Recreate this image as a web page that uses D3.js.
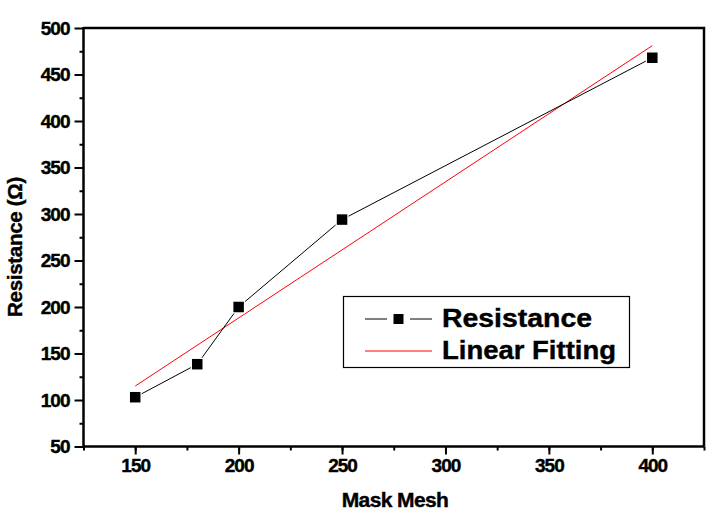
<!DOCTYPE html>
<html><head><meta charset="utf-8">
<script src="https://cdn.jsdelivr.net/npm/d3@7"></script>
<style>
html,body{margin:0;padding:0;background:#fff;}
svg{display:block;font-family:Arial,"Liberation Sans",sans-serif;}
</style></head>
<body>
<svg id="chart" width="719" height="526"></svg>
<script>
// Data
const meshes = [150, 180, 200, 250, 400];
const resistance = [103, 138.5, 200, 294, 468];
const fitX = [150, 400];
const fitY = [115, 481];
const xTicks = [150, 200, 250, 300, 350, 400];
const yTicks = [50, 100, 150, 200, 250, 300, 350, 400, 450, 500];
const seriesNames = ["Resistance", "Linear Fitting"];

const W = 719, H = 526;
const L = 83.5, R = 704, T = 28, B = 446.5;
const svg = d3.select("#chart");

const x = d3.scaleLinear().domain([125, 425]).range([L, R]);
const y = d3.scaleLinear().domain([50, 500]).range([B, T]);

// frame top/right
svg.append("path")
  .attr("d", `M${L},${T}H${R}V${B}`)
  .attr("fill", "none").attr("stroke", "#000").attr("stroke-width", 2.5);

function styleLabels(sel) {
  sel.selectAll("text").attr("font-size", 19).attr("font-weight", "bold")
    .attr("letter-spacing", -1).attr("fill", "#000").attr("stroke", "#000").attr("stroke-width", 0.4)
    .attr("font-family", "Arial, Liberation Sans");
}

// x axis
const xAxis = svg.append("g").attr("transform", `translate(0,${B})`);
xAxis.call(d3.axisBottom(x).tickValues(d3.range(125, 426, 25)).tickSize(4).tickFormat(""))
xAxis.select(".domain").remove();
xAxis.selectAll(".tick line").attr("stroke-width", 2);
const xMaj = svg.append("g").attr("transform", `translate(0,${B})`);
xMaj.call(d3.axisBottom(x).tickValues(xTicks).tickSize(8).tickPadding(4).tickFormat(d3.format("d")));
xMaj.select(".domain").remove();
xMaj.selectAll(".tick line").attr("stroke-width", 2);
styleLabels(xMaj);
svg.append("line").attr("x1", L).attr("x2", R).attr("y1", B).attr("y2", B)
  .attr("stroke", "#000").attr("stroke-width", 2.5);

// y axis
const yMin = svg.append("g").attr("transform", `translate(${L},0)`);
yMin.call(d3.axisLeft(y).tickValues(d3.range(75, 500, 50)).tickSize(4).tickFormat(""));
yMin.select(".domain").remove();
yMin.selectAll(".tick line").attr("stroke-width", 2);
const yMaj = svg.append("g").attr("transform", `translate(${L},0)`);
yMaj.call(d3.axisLeft(y).tickValues(yTicks).tickSize(9).tickPadding(5).tickFormat(d3.format("d")));
yMaj.select(".domain").remove();
yMaj.selectAll(".tick line").attr("stroke-width", 2);
styleLabels(yMaj);
svg.append("line").attr("x1", L).attr("x2", L).attr("y1", T - 1).attr("y2", B + 1)
  .attr("stroke", "#000").attr("stroke-width", 2.5);

// fit line
svg.append("line")
  .attr("x1", x(fitX[0])).attr("y1", y(fitY[0]))
  .attr("x2", x(fitX[1])).attr("y2", y(fitY[1]))
  .attr("stroke", "#ff0000").attr("stroke-width", 1);

// data line
const pts = meshes.map((m, i) => [m, resistance[i]]);
svg.append("path")
  .attr("d", d3.line().x(d => x(d[0])).y(d => y(d[1]))(pts))
  .attr("fill", "none").attr("stroke", "#000").attr("stroke-width", 1);

const ms = 10.5;
svg.selectAll("rect.pt").data(pts).enter().append("rect")
  .attr("class", "pt")
  .attr("x", d => x(d[0]) - ms / 2).attr("y", d => y(d[1]) - ms / 2)
  .attr("width", ms).attr("height", ms)
  .attr("fill", "#000").attr("stroke", "#fff").attr("stroke-width", 2.5)
  .attr("paint-order", "stroke");

// legend
const lg = svg.append("g");
lg.append("rect").attr("x", 343.5).attr("y", 296.5).attr("width", 286).attr("height", 71)
  .attr("fill", "#fff").attr("stroke", "#000").attr("stroke-width", 1.2);
lg.append("line").attr("x1", 365).attr("x2", 387).attr("y1", 319).attr("y2", 319).attr("stroke", "#000");
lg.append("line").attr("x1", 410).attr("x2", 432).attr("y1", 319).attr("y2", 319).attr("stroke", "#000");
lg.append("rect").attr("x", 398.5 - 5).attr("y", 319 - 5).attr("width", 10).attr("height", 10).attr("fill", "#000");
lg.append("line").attr("x1", 365).attr("x2", 432).attr("y1", 351).attr("y2", 351).attr("stroke", "#ff0000");
lg.append("text").attr("x", 442).attr("y", 327).text(seriesNames[0])
  .attr("font-size", 25.5).attr("font-weight", "bold").attr("stroke", "#000").attr("stroke-width", 0.4)
  .attr("textLength", 150).attr("lengthAdjust", "spacingAndGlyphs");
lg.append("text").attr("x", 442).attr("y", 359).text(seriesNames[1])
  .attr("font-size", 25.5).attr("font-weight", "bold").attr("stroke", "#000").attr("stroke-width", 0.4)
  .attr("textLength", 174).attr("lengthAdjust", "spacingAndGlyphs");

// axis titles
svg.append("text").attr("x", 395).attr("y", 507).attr("text-anchor", "middle")
  .attr("font-size", 21).attr("font-weight", "bold").attr("letter-spacing", -0.6)
  .attr("stroke", "#000").attr("stroke-width", 0.4).text("Mask Mesh");
svg.append("text").attr("transform", "translate(22,247) rotate(-90)").attr("text-anchor", "middle")
  .attr("font-size", 20.5).attr("font-weight", "bold").attr("letter-spacing", -0.3)
  .attr("stroke", "#000").attr("stroke-width", 0.4).text("Resistance (Ω)");
</script>
</body></html>
